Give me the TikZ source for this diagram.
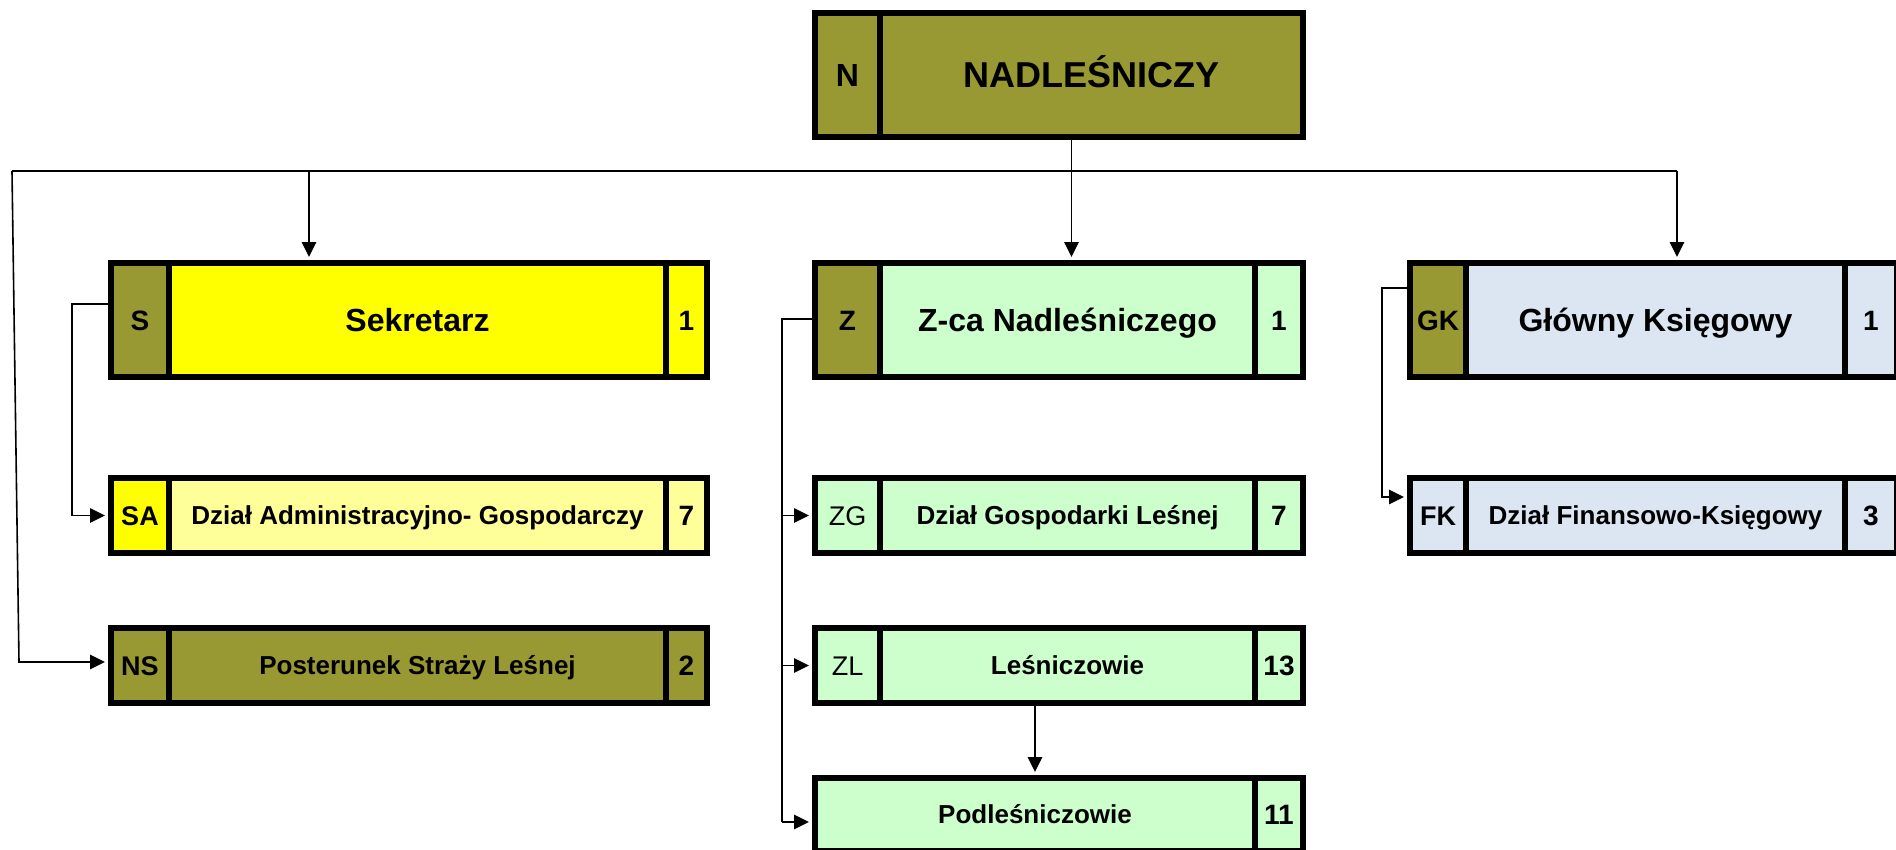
\documentclass[tikz,border=0pt]{standalone}
\usepackage{fontspec}
\setmainfont{Liberation Sans}
\usetikzlibrary{arrows.meta,calc}
\definecolor{olive}{HTML}{999933}
\definecolor{yel}{HTML}{FFFF00}
\definecolor{lyel}{HTML}{FFFF99}
\definecolor{lgreen}{HTML}{CCFFCC}
\definecolor{lblue}{HTML}{DCE6F2}
\newcommand\orgcell[7]{\node[cell,fill=#4,minimum width=#5pt,minimum height=#6pt,#7] (#1) at (#2) {#3};}
\tikzset{
  cell/.style={draw=black, line width=6pt, inner sep=0pt, anchor=north west, text=black},
  tbig/.style={font=\bfseries\fontsize{36}{40}\selectfont, text height=25.8pt, text depth=0pt},
  ttitle/.style={font=\bfseries\fontsize{32}{36}\selectfont, text height=23pt, text depth=0pt},
  tnum/.style={font=\bfseries\fontsize{28}{32}\selectfont, text height=20pt, text depth=0pt},
  tsub/.style={font=\bfseries\fontsize{26}{30}\selectfont, text height=18.6pt, text depth=0pt},
  tcode/.style={font=\bfseries\fontsize{27}{30}\selectfont, text height=19.3pt, text depth=0pt},
  tcodereg/.style={font=\fontsize{27}{30}\selectfont, text height=19.3pt, text depth=0pt},
  conn/.style={draw=black, line width=1.6pt},
  arr/.style={conn, -{Triangle[length=15pt,width=14.5pt]}, shorten >=3pt},
}
\begin{document}
\begin{tikzpicture}[x=1pt,y=-1pt]
\useasboundingbox (0,0) rectangle (1896,849);
\clip (0,0) rectangle (1896,849);
% coordinates for free connector points
\coordinate (busL) at (12,171);
\coordinate (busR) at (1677,171);
\coordinate (sDrop) at (309,171);
\coordinate (nsCorner) at (19,662);
\coordinate (sF) at (72,304);
\coordinate (zF) at (782,319);
\coordinate (zEnd) at (782,822);
\coordinate (gF) at (1382,288);
\coordinate (gEnd) at (1382,497);
% boxes
\orgcell{N1}{812,10}{N}{olive}{65}{124}{ttitle}
\orgcell{N2}{877,10}{NADLEŚNICZY}{olive}{423}{124}{tbig}
\orgcell{S1}{108,260}{S}{olive}{58}{114}{tnum}
\orgcell{S2}{166,260}{Sekretarz}{yel}{497}{114}{ttitle}
\orgcell{S3}{663,260}{1}{yel}{41}{114}{tnum}
\orgcell{Z1}{812,260}{Z}{olive}{65}{114}{tnum}
\orgcell{Z2}{877,260}{Z-ca Nadleśniczego}{lgreen}{375}{114}{ttitle}
\orgcell{Z3}{1252,260}{1}{lgreen}{48}{114}{tnum}
\orgcell{G1}{1407,260}{GK}{olive}{56}{114}{tnum}
\orgcell{G2}{1463,260}{Główny Księgowy}{lblue}{379}{114}{ttitle}
\orgcell{G3}{1842,260}{1}{lblue}{52}{114}{tnum}
\orgcell{SA1}{108,475}{SA}{yel}{58}{75}{tcode}
\orgcell{SA2}{166,475}{Dział Administracyjno- Gospodarczy}{lyel}{497}{75}{tsub}
\orgcell{SA3}{663,475}{7}{lyel}{41}{75}{tnum}
\orgcell{NS1}{108,625}{NS}{olive}{58}{75}{tcode}
\orgcell{NS2}{166,625}{Posterunek Straży Leśnej}{olive}{497}{75}{tsub}
\orgcell{NS3}{663,625}{2}{olive}{41}{75}{tnum}
\orgcell{ZG1}{812,475}{ZG}{lgreen}{65}{75}{tcodereg}
\orgcell{ZG2}{877,475}{Dział Gospodarki Leśnej}{lgreen}{375}{75}{tsub}
\orgcell{ZG3}{1252,475}{7}{lgreen}{48}{75}{tnum}
\orgcell{ZL1}{812,625}{ZL}{lgreen}{65}{75}{tcodereg}
\orgcell{ZL2}{877,625}{Leśniczowie}{lgreen}{375}{75}{tsub}
\orgcell{ZL3}{1252,625}{13}{lgreen}{48}{75}{tnum}
\orgcell{P1}{812,775}{Podleśniczowie}{lgreen}{440}{73}{tsub}
\orgcell{P2}{1252,775}{11}{lgreen}{48}{73}{tnum}
\orgcell{FK1}{1407,475}{FK}{lblue}{56}{75}{tcode}
\orgcell{FK2}{1463,475}{Dział Finansowo-Księgowy}{lblue}{379}{75}{tsub}
\orgcell{FK3}{1842,475}{3}{lblue}{52}{75}{tnum}
% connectors
\draw[conn] (busL) -- (busR);
\draw[arr] ([xshift=-20pt]N2.south) -- ([xshift=-20pt]N2.south |- Z2.north);
\draw[arr] (sDrop) -- (sDrop |- S2.north);
\draw[arr] (busR) -- (busR |- G2.north);
\draw[arr] (busL) -- (nsCorner) -- (nsCorner -| NS1.west);
\draw[arr] (sF -| S1.west) -- (sF) -- (sF |- SA1.west) -- (SA1.west);
\draw[conn] (zF -| Z1.west) -- (zF) -- (zEnd);
\draw[arr] (zF |- ZG1.west) -- (ZG1.west);
\draw[arr] (zF |- ZL1.west) -- (ZL1.west);
\draw[arr] (zEnd) -- (zEnd -| P1.west);
\draw[arr] (gF -| G1.west) -- (gF) -- (gEnd) -- (gEnd -| FK1.west);
\draw[arr] (P1.north |- ZL2.south) -- (P1.north);
\end{tikzpicture}
\end{document}
